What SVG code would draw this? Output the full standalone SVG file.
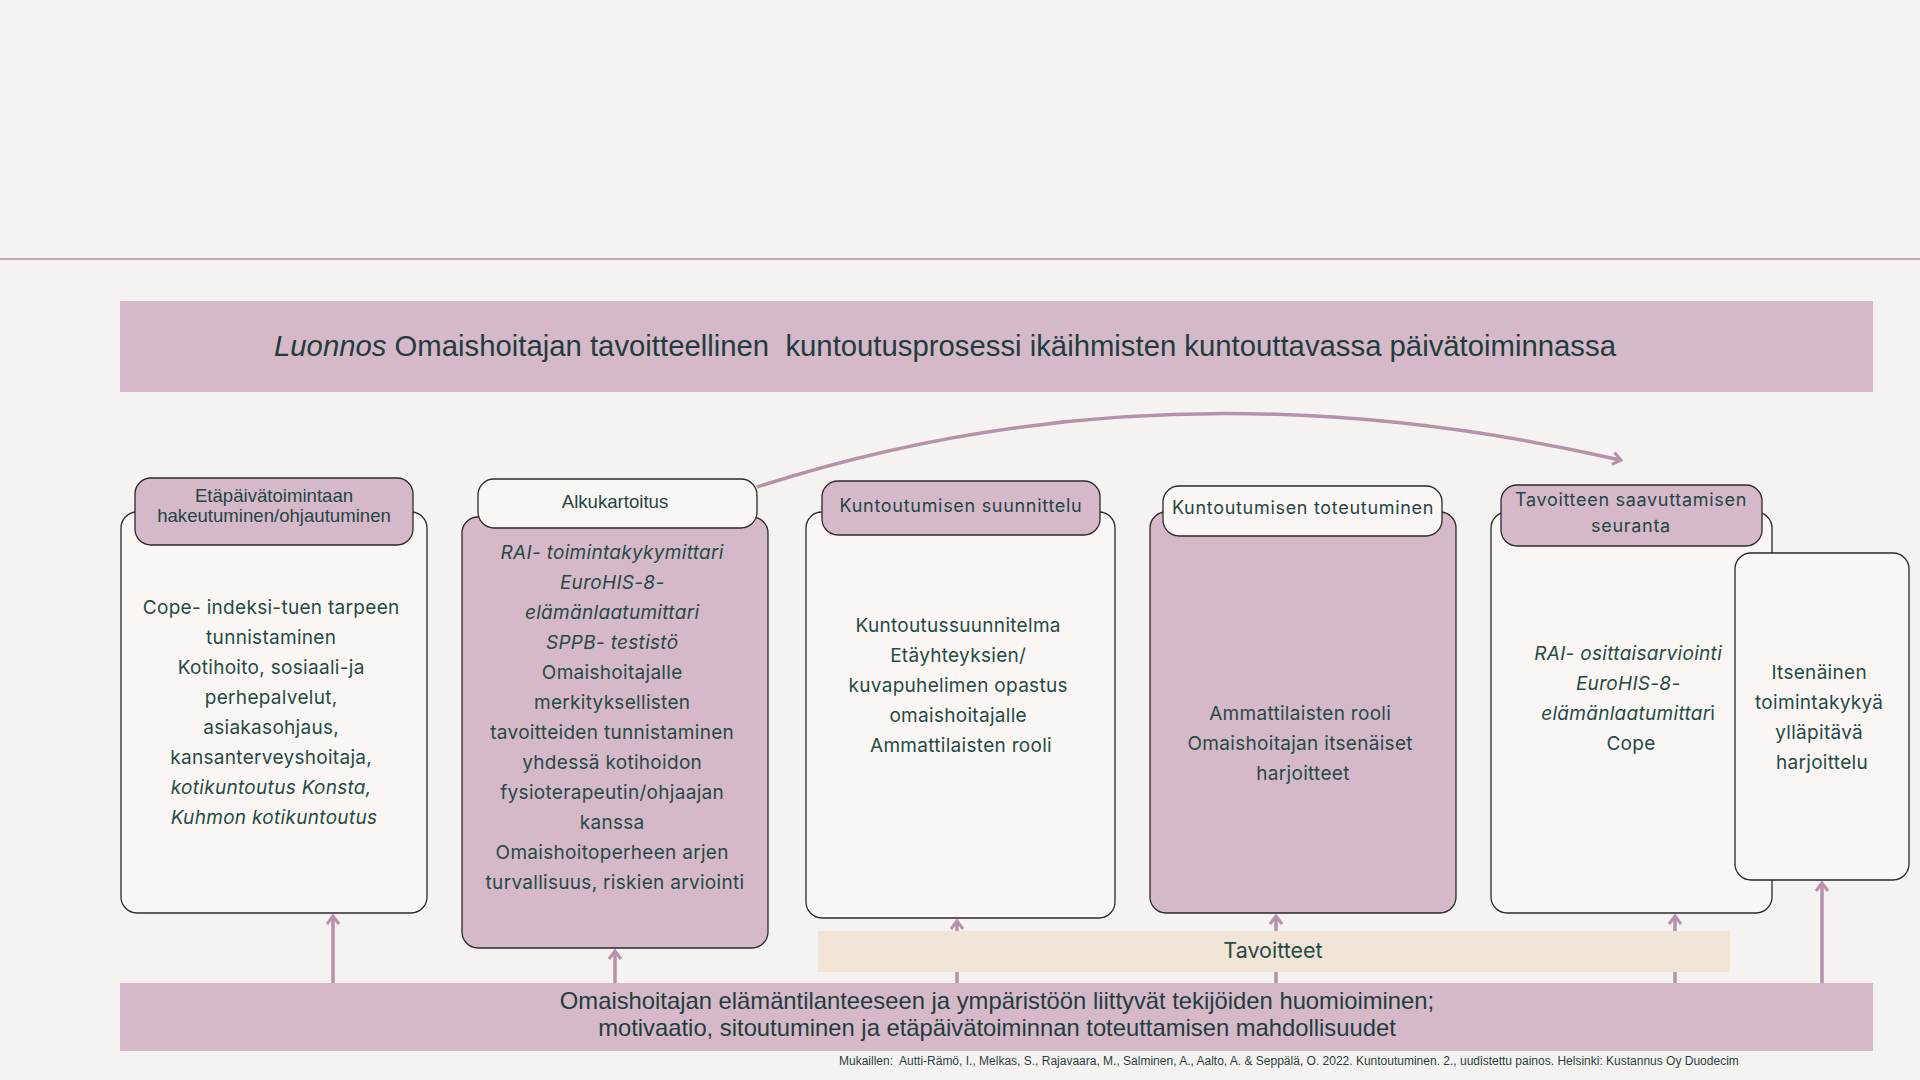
<svg xmlns="http://www.w3.org/2000/svg" width="1920" height="1080" viewBox="0 0 1920 1080">
<style>
.bg{fill:#f4f3f1}
.pink{fill:#d5b9c9;stroke:#2a2a2a;stroke-width:1.3}
.cream{fill:#faf6f3;stroke:#2a2a2a;stroke-width:1.3}
.band{fill:#d5b9c9}
.conn{stroke:#b692a9;stroke-width:3.5;fill:none}
.hd{font-family:"Liberation Sans",Arial,sans-serif;font-size:18.6px;fill:#234545;text-anchor:middle}
.hd2{font-family:Inter,"Noto Sans",sans-serif;font-size:18px;fill:#234545;text-anchor:middle;letter-spacing:0.7px}
.bd{font-family:Inter,"Noto Sans",sans-serif;font-size:19px;fill:#264a46;text-anchor:middle;letter-spacing:0.3px}
.it{font-style:italic}
.ttl{font-family:"Liberation Sans",Arial,sans-serif;font-size:29.3px;fill:#1f3d3d;white-space:pre}
.bt{font-family:"Liberation Sans",Arial,sans-serif;font-size:23.8px;fill:#1f3d3d;text-anchor:middle}
.cite{font-family:"Liberation Sans",Arial,sans-serif;font-size:12px;fill:#2c3e3e;white-space:pre}
</style>
<defs>
<marker id="ah" markerWidth="16" markerHeight="16" refX="8" refY="8" orient="auto" markerUnits="userSpaceOnUse">
<path d="M1,2 L9,8 L1,14" fill="none" stroke="#b692a9" stroke-width="3"/>
</marker>
</defs>
<rect class="bg" x="0" y="0" width="1920" height="1080"/>
<line x1="0" y1="259" x2="1920" y2="259" stroke="#c4a6b8" stroke-width="2.2"/>

<g id="title">
<rect class="band" x="120" y="301" width="1753" height="91"/>
<text class="ttl" x="274" y="356" xml:space="preserve"><tspan font-style="italic">Luonnos</tspan> Omaishoitajan tavoitteellinen  kuntoutusprosessi ikäihmisten kuntouttavassa päivätoiminnassa</text>
</g>

<g id="connectors">
<path class="conn" d="M757,487 Q1164,355 1620,460" marker-end="url(#ah)"/>
<line class="conn" x1="333" y1="983" x2="333" y2="917" marker-end="url(#ah)"/>
<line class="conn" x1="615" y1="983" x2="615" y2="952" marker-end="url(#ah)"/>
<line class="conn" x1="957" y1="983" x2="957" y2="922" marker-end="url(#ah)"/>
<line class="conn" x1="1276" y1="983" x2="1276" y2="917" marker-end="url(#ah)"/>
<line class="conn" x1="1675" y1="983" x2="1675" y2="917" marker-end="url(#ah)"/>
<line class="conn" x1="1822" y1="983" x2="1822" y2="884" marker-end="url(#ah)"/>
</g>

<g id="node-hakeutuminen">
<rect class="cream" x="121" y="512" width="306" height="401" rx="16"/>
<rect class="pink" x="135" y="478" width="278" height="67" rx="16"/>
<text class="hd"><tspan x="274" y="502">Etäpäivätoimintaan</tspan><tspan x="274" y="522">hakeutuminen/ohjautuminen</tspan></text>
<text class="bd">
<tspan x="274" y="614">Cope- indeksi-tuen tarpeen</tspan>
<tspan x="274" y="644">tunnistaminen</tspan>
<tspan x="274" y="674">Kotihoito, sosiaali-ja</tspan>
<tspan x="274" y="704">perhepalvelut,</tspan>
<tspan x="274" y="734">asiakasohjaus,</tspan>
<tspan x="274" y="764">kansanterveyshoitaja,</tspan>
<tspan x="274" y="794" class="it">kotikuntoutus Konsta,</tspan>
<tspan x="274" y="824" class="it">Kuhmon kotikuntoutus</tspan>
</text>
</g>

<g id="node-alkukartoitus">
<rect class="pink" x="462" y="517" width="306" height="431" rx="16"/>
<rect class="cream" x="478" y="479" width="279" height="49" rx="16"/>
<text class="hd" x="615" y="508">Alkukartoitus</text>
<text class="bd">
<tspan x="615" y="559" class="it">RAI- toimintakykymittari</tspan>
<tspan x="615" y="589" class="it">EuroHIS-8-</tspan>
<tspan x="615" y="619" class="it">elämänlaatumittari</tspan>
<tspan x="615" y="649" class="it">SPPB- testistö</tspan>
<tspan x="615" y="679">Omaishoitajalle</tspan>
<tspan x="615" y="709">merkityksellisten</tspan>
<tspan x="615" y="739">tavoitteiden tunnistaminen</tspan>
<tspan x="615" y="769">yhdessä kotihoidon</tspan>
<tspan x="615" y="799">fysioterapeutin/ohjaajan</tspan>
<tspan x="615" y="829">kanssa</tspan>
<tspan x="615" y="859">Omaishoitoperheen arjen</tspan>
<tspan x="615" y="889">turvallisuus, riskien arviointi</tspan>
</text>
</g>

<g id="node-suunnittelu">
<rect class="cream" x="806" y="512" width="309" height="406" rx="16"/>
<rect class="pink" x="822" y="481" width="278" height="54" rx="16"/>
<text class="hd2" x="961" y="512">Kuntoutumisen suunnittelu</text>
<text class="bd">
<tspan x="961" y="632">Kuntoutussuunnitelma</tspan>
<tspan x="961" y="662">Etäyhteyksien/</tspan>
<tspan x="961" y="692">kuvapuhelimen opastus</tspan>
<tspan x="961" y="722">omaishoitajalle</tspan>
<tspan x="961" y="752">Ammattilaisten rooli</tspan>
</text>
</g>

<g id="node-toteutuminen">
<rect class="pink" x="1150" y="512" width="306" height="401" rx="16"/>
<rect class="cream" x="1163" y="486" width="279" height="50" rx="16"/>
<text class="hd2" x="1303" y="514">Kuntoutumisen toteutuminen</text>
<text class="bd">
<tspan x="1303" y="720">Ammattilaisten rooli</tspan>
<tspan x="1303" y="750">Omaishoitajan itsenäiset</tspan>
<tspan x="1303" y="780">harjoitteet</tspan>
</text>
</g>

<g id="node-seuranta">
<rect class="cream" x="1491" y="512" width="281" height="401" rx="16"/>
<rect class="pink" x="1501" y="485" width="261" height="61" rx="16"/>
<text class="hd2"><tspan x="1631" y="506">Tavoitteen saavuttamisen</tspan><tspan x="1631" y="532">seuranta</tspan></text>
<text class="bd">
<tspan x="1631" y="660" class="it">RAI- osittaisarviointi</tspan>
<tspan x="1631" y="690" class="it">EuroHIS-8-</tspan>
<tspan x="1631" y="720"><tspan class="it">elämänlaatumittar</tspan>i</tspan>
<tspan x="1631" y="750">Cope</tspan>
</text>
</g>

<g id="node-itsenainen">
<rect class="cream" x="1735" y="553" width="174" height="327" rx="16"/>
<text class="bd">
<tspan x="1822" y="679">Itsenäinen</tspan>
<tspan x="1822" y="709">toimintakykyä</tspan>
<tspan x="1822" y="739">ylläpitävä</tspan>
<tspan x="1822" y="769">harjoittelu</tspan>
</text>
</g>

<g id="node-tavoitteet">
<rect x="818" y="931" width="912" height="41" fill="#efe4d5"/>
<text class="bd" x="1273" y="958" style="font-size:21.5px;letter-spacing:0">Tavoitteet</text>
</g>

<g id="node-tekijat">
<rect class="band" x="120" y="983" width="1753" height="68"/>
<text class="bt"><tspan x="997" y="1009">Omaishoitajan elämäntilanteeseen ja ympäristöön liittyvät tekijöiden huomioiminen;</tspan><tspan x="997" y="1036">motivaatio, sitoutuminen ja etäpäivätoiminnan toteuttamisen mahdollisuudet</tspan></text>
</g>

<text class="cite" x="839" y="1065" xml:space="preserve">Mukaillen:  Autti-Rämö, I., Melkas, S., Rajavaara, M., Salminen, A., Aalto, A. &amp; Seppälä, O. 2022. Kuntoutuminen. 2., uudistettu painos. Helsinki: Kustannus Oy Duodecim</text>
</svg>
